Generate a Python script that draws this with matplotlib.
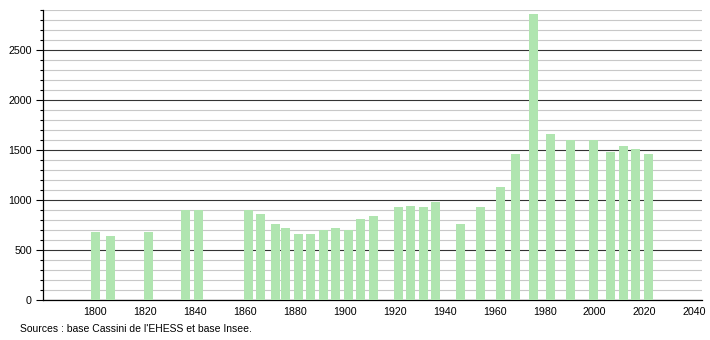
import matplotlib.pyplot as plt
from matplotlib.ticker import MultipleLocator

plt.rcParams['font.family'] = ['Liberation Sans', 'DejaVu Sans']

years = [1800, 1806, 1821, 1836, 1841, 1861, 1866, 1872, 1876, 1881, 1886,
         1891, 1896, 1901, 1906, 1911, 1921, 1926, 1931, 1936, 1946, 1954,
         1962, 1968, 1975, 1982, 1990, 1999, 2006, 2011, 2016, 2021]
population = [683, 640, 683, 900, 900, 900, 863, 763, 720, 660, 660,
              700, 720, 700, 810, 840, 930, 940, 930, 980, 760, 930,
              1130, 1460, 2860, 1660, 1600, 1600, 1480, 1540, 1510, 1460]
x_ticks = [1800, 1820, 1840, 1860, 1880, 1900, 1920, 1940, 1960, 1980, 2000, 2020, 2040]
y_ticks = [0, 500, 1000, 1500, 2000, 2500]
source = "Sources : base Cassini de l'EHESS et base Insee."

fig = plt.figure(figsize=(7.1, 3.4), dpi=100)
ax = fig.add_axes([0.0606, 0.1176, 0.9275, 0.853])

bar_w = 3.6
ax.bar([y - 1.4 for y in years], population, width=bar_w, align='edge',
       color='#b0e5b0', zorder=3)

ax.set_xlim(1779.2, 2042.8)
ax.set_ylim(0, 2900)
ax.set_xticks(x_ticks)
ax.set_yticks(y_ticks)
ax.yaxis.set_minor_locator(MultipleLocator(100))

ax.grid(axis='y', which='minor', color='#c8c8c8', linewidth=0.8, zorder=1)
ax.grid(axis='y', which='major', color='#333333', linewidth=0.8, zorder=2)

for side in ['top', 'right']:
    ax.spines[side].set_visible(False)
ax.spines['left'].set_linewidth(0.9)
ax.spines['bottom'].set_linewidth(0.9)

ax.tick_params(axis='x', length=0, labelsize=7.7, pad=5)
ax.tick_params(axis='y', which='major', length=5, width=0.8, labelsize=7.7, pad=3)
ax.tick_params(axis='y', which='minor', length=2.5, width=0.8)

fig.text(20 / 710, 1 - 329 / 340, source, fontsize=7.5, va='center', ha='left')

fig.savefig('out.png', dpi=100)
